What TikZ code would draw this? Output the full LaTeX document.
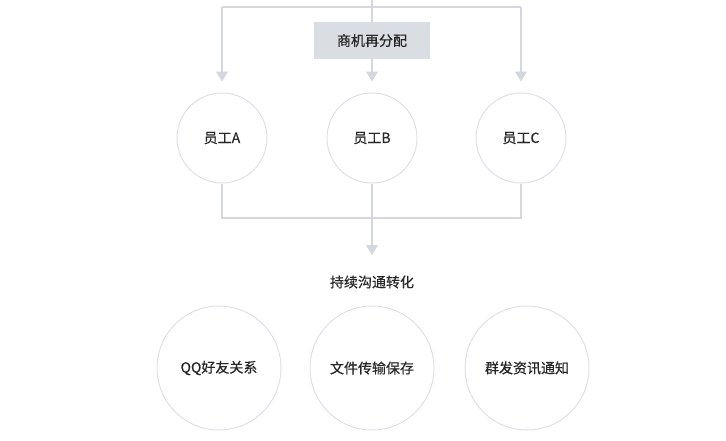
\documentclass[tikz,border=0pt]{standalone}
\usepackage{fontspec}
\newfontfamily\cjk[FakeBold=0.6]{Noto Sans CJK SC}
\usetikzlibrary{arrows.meta}
\definecolor{lg}{RGB}{212,216,222}
\begin{document}
\begin{tikzpicture}[x=1pt,y=-1pt,
  ln/.style={draw=lg,line width=1.3pt},
  arr/.style={ln,-{Triangle[width=12pt,length=10pt]}},
  txt/.style={font=\cjk\fontsize{14}{16}\selectfont,text=black!85},
  small/.style={circle,draw=lg!80,line width=1pt,minimum size=90pt,inner sep=0pt,txt},
  big/.style={circle,draw=lg!80,line width=1pt,minimum size=124pt,inner sep=0pt,txt}]
\useasboundingbox (0,0) rectangle (726,440);
\coordinate (top) at (372,0);
\coordinate (tl) at (222,7);
\coordinate (tm) at (372,7);
\coordinate (tr) at (521,7);
\node[small] (a) at (222,138) {员工A};
\node[small] (b) at (372,138) {员工B};
\node[small] (c) at (521,138) {员工C};
\draw[ln] (top) -- (tm);
\draw[ln] (tl) -- (tr);
\draw[arr] (tl) -- ([yshift=11pt]a.north);
\draw[arr] (tm) -- ([yshift=11pt]b.north);
\draw[arr] (tr) -- ([yshift=11pt]c.north);
\node[fill=lg!85,minimum width=116pt,minimum height=37pt,txt] (lab) at (372,40.5) {商机再分配};
\coordinate (bl) at (222,218);
\coordinate (bm) at (372,218);
\coordinate (br) at (521,218);
\draw[ln] (a.south) -- (bl) -- (br) -- (c.south);
\node[txt] (t) at (372,282) {持续沟通转化};
\draw[arr] (b.south) -- ([yshift=17pt]t.north);
\node[big] (d) at (219,368) {QQ好友关系};
\node[big] (e) at (372,368) {文件传输保存};
\node[big] (f) at (527,368) {群发资讯通知};
\end{tikzpicture}
\end{document}
